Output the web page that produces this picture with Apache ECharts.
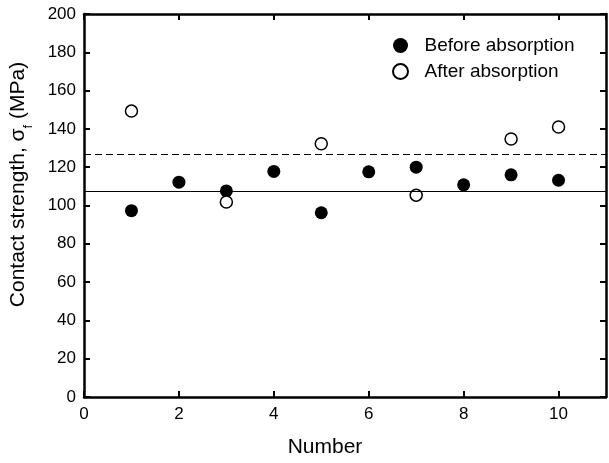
<!DOCTYPE html>
<html>
<head>
<meta charset="utf-8">
<script src="https://cdn.jsdelivr.net/npm/echarts@6/dist/echarts.min.js"></script>
<style>
  html, body { margin: 0; padding: 0; background: #fff; }
  #chart { width: 609px; height: 463px; }
</style>
</head>
<body>
<div id="chart"></div>
<script>
// specimen numbers and strengths (MPa)
var beforeX = [1, 2, 3, 4, 5, 6, 7, 8, 9, 10];
var beforeY = [97.3, 112.2, 107.6, 117.8, 96.2, 117.6, 120.0, 110.8, 116.0, 113.2];
var afterX = [1, 3, 5, 7, 9, 10];
var afterY = [149.3, 101.8, 132.2, 105.4, 134.7, 141.0];
// mean lines
var beforeMean = 107.2;
var afterMean = 126.7;

var font = 'Liberation Sans, Arial, sans-serif';

function pairs(xs, ys) {
  return xs.map(function (x, i) { return [x, ys[i]]; });
}

var chart = echarts.init(document.getElementById('chart'));

var axisLine = { show: true, onZero: false, lineStyle: { color: '#000', width: 2.5 } };
var axisTick = { show: true, inside: true, length: 6, lineStyle: { color: '#000', width: 2 } };

var option = {
  backgroundColor: '#fff',
  animation: false,
  grid: { left: 83, right: 3, top: 14, bottom: 63 },
  legend: {
    orient: 'vertical',
    left: 387,
    top: 31,
    itemWidth: 38,
    itemHeight: 15,
    itemGap: 7,
    textStyle: { fontFamily: font, fontSize: 19, color: '#000' },
    data: ['Before absorption', 'After absorption']
  },
  xAxis: [{
    type: 'value',
    min: 0,
    max: 11,
    interval: 2,
    position: 'bottom',
    name: 'Number',
    nameLocation: 'middle',
    nameGap: 40,
    nameTextStyle: { fontFamily: font, fontSize: 21, color: '#000', padding: [0, 40, 0, 0] },
    axisLine: axisLine,
    axisTick: axisTick,
    splitLine: { show: false },
    axisLabel: {
      showMaxLabel: false,
      margin: 9,
      fontFamily: font, fontSize: 17, color: '#000'
    }
  }, {
    type: 'value',
    min: 0,
    max: 11,
    interval: 2,
    position: 'top',
    axisLine: axisLine,
    axisTick: axisTick,
    splitLine: { show: false },
    axisLabel: { show: false }
  }],
  yAxis: [{
    type: 'value',
    min: 0,
    max: 200,
    interval: 20,
    position: 'left',
    name: 'Contact strength, σ{sub|f} (MPa)',
    nameLocation: 'middle',
    nameGap: 55,
    nameRotate: 90,
    nameTextStyle: {
      fontFamily: font, fontSize: 21, color: '#000', padding: [0, 0, 0, 42],
      rich: {
        sub: { fontFamily: font, fontSize: 13, color: '#000', verticalAlign: 'bottom', padding: [0, 0, -6, 0] }
      }
    },
    axisLine: axisLine,
    axisTick: axisTick,
    splitLine: { show: false },
    axisLabel: { margin: 8, fontFamily: font, fontSize: 17, color: '#000' }
  }, {
    type: 'value',
    min: 0,
    max: 200,
    interval: 20,
    position: 'right',
    axisLine: axisLine,
    axisTick: axisTick,
    splitLine: { show: false },
    axisLabel: { show: false }
  }],
  series: [{
    name: 'Before absorption',
    type: 'scatter',
    symbol: 'circle',
    symbolSize: 13,
    itemStyle: { color: '#000', opacity: 1 },
    data: pairs(beforeX, beforeY),
    markLine: {
      silent: true,
      symbol: 'none',
      label: { show: false },
      lineStyle: { color: '#000', width: 1.2, type: 'solid' },
      data: [{ yAxis: beforeMean }]
    },
    z: 3
  }, {
    name: 'After absorption',
    type: 'scatter',
    symbol: 'circle',
    symbolSize: 12,
    itemStyle: { color: '#fff', borderColor: '#000', borderWidth: 1.5, opacity: 1 },
    data: pairs(afterX, afterY),
    markLine: {
      silent: true,
      symbol: 'none',
      label: { show: false },
      lineStyle: { color: '#000', width: 1.2, type: [7, 4] },
      data: [{ yAxis: afterMean }]
    },
    z: 4
  }]
};

chart.setOption(option);
</script>
</body>
</html>
